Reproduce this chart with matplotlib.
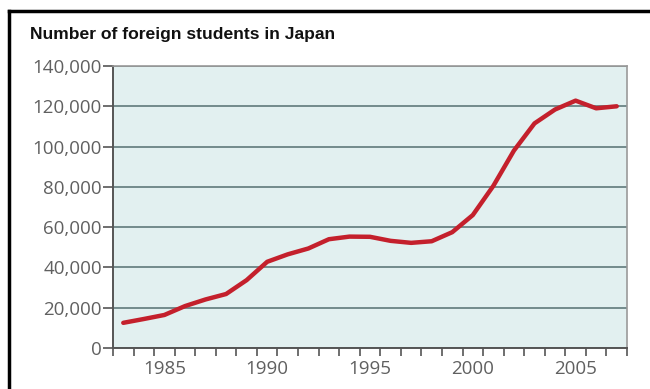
import matplotlib
matplotlib.use("Agg")
import matplotlib.pyplot as plt
from matplotlib.lines import Line2D

years = list(range(1983, 2008))
students = [12500, 14400, 16400, 20800, 24100, 26800, 33700, 42800, 46500, 49400,
            54000, 55300, 55200, 53200, 52200, 53000, 57500, 66000, 80500, 98000,
            111500, 118400, 122800, 119000, 120000]
title = "Number of foreign students in Japan"
ytick_vals = [0, 20000, 40000, 60000, 80000, 100000, 120000, 140000]
ytick_labels = ["0", "20,000", "40,000", "60,000", "80,000", "100,000", "120,000", "140,000"]
xlabel_years = [1985, 1990, 1995, 2000, 2005]

plt.rcParams['font.family'] = ['Open Sans', 'DejaVu Sans']

fig = plt.figure(figsize=(6.5, 3.89), dpi=100)
ax = fig.add_axes([113/650, 1-348/389, (627-113)/650, (348-66)/389])
ax.set_facecolor('#e2f0f0')

ax.plot(years, students, color='#c4202c', lw=3.2, solid_capstyle='round',
        solid_joinstyle='round', zorder=3)

ax.set_xlim(1982.5, 2007.5)
ax.set_ylim(0, 140000)

ax.set_yticks(ytick_vals)
ax.set_yticklabels(ytick_labels)
ax.yaxis.grid(True, color='#6a8384', lw=1.3)
ax.set_axisbelow(True)

# ticks on year boundaries, labels at year centers
ax.set_xticks([y + 0.5 for y in range(1982, 2008)])
ax.set_xticklabels([])
ax.set_xticks(xlabel_years, minor=True)
ax.set_xticklabels([str(y) for y in xlabel_years], minor=True)
ax.tick_params(axis='x', which='major', direction='out', length=6, width=1.2, color='#555555')
ax.tick_params(axis='x', which='minor', length=0, pad=9, labelsize=13.5, labelcolor='#606060')
ax.tick_params(axis='y', direction='out', length=7, width=1.2, color='#555555',
               labelsize=13.5, labelcolor='#606060', pad=1)

for s in ['left', 'bottom']:
    ax.spines[s].set_color('#555555')
    ax.spines[s].set_linewidth(1.4)
for s in ['top', 'right']:
    ax.spines[s].set_color('#9a9a9a')
    ax.spines[s].set_linewidth(1.2)

fig.text(30/650, 1-34/389, title, fontsize=12.6, fontweight='bold', color='#111111',
         family=['Liberation Sans', 'DejaVu Sans'], va='center', ha='left')

# black frame (top and left)
fig.add_artist(Line2D([9/650, 1.0], [1-11/389, 1-11/389], color='black', lw=2.5,
                      transform=fig.transFigure))
fig.add_artist(Line2D([9/650, 9/650], [1-11/389, 0], color='black', lw=2.5,
                      transform=fig.transFigure))

fig.savefig('out.png', dpi=100)
